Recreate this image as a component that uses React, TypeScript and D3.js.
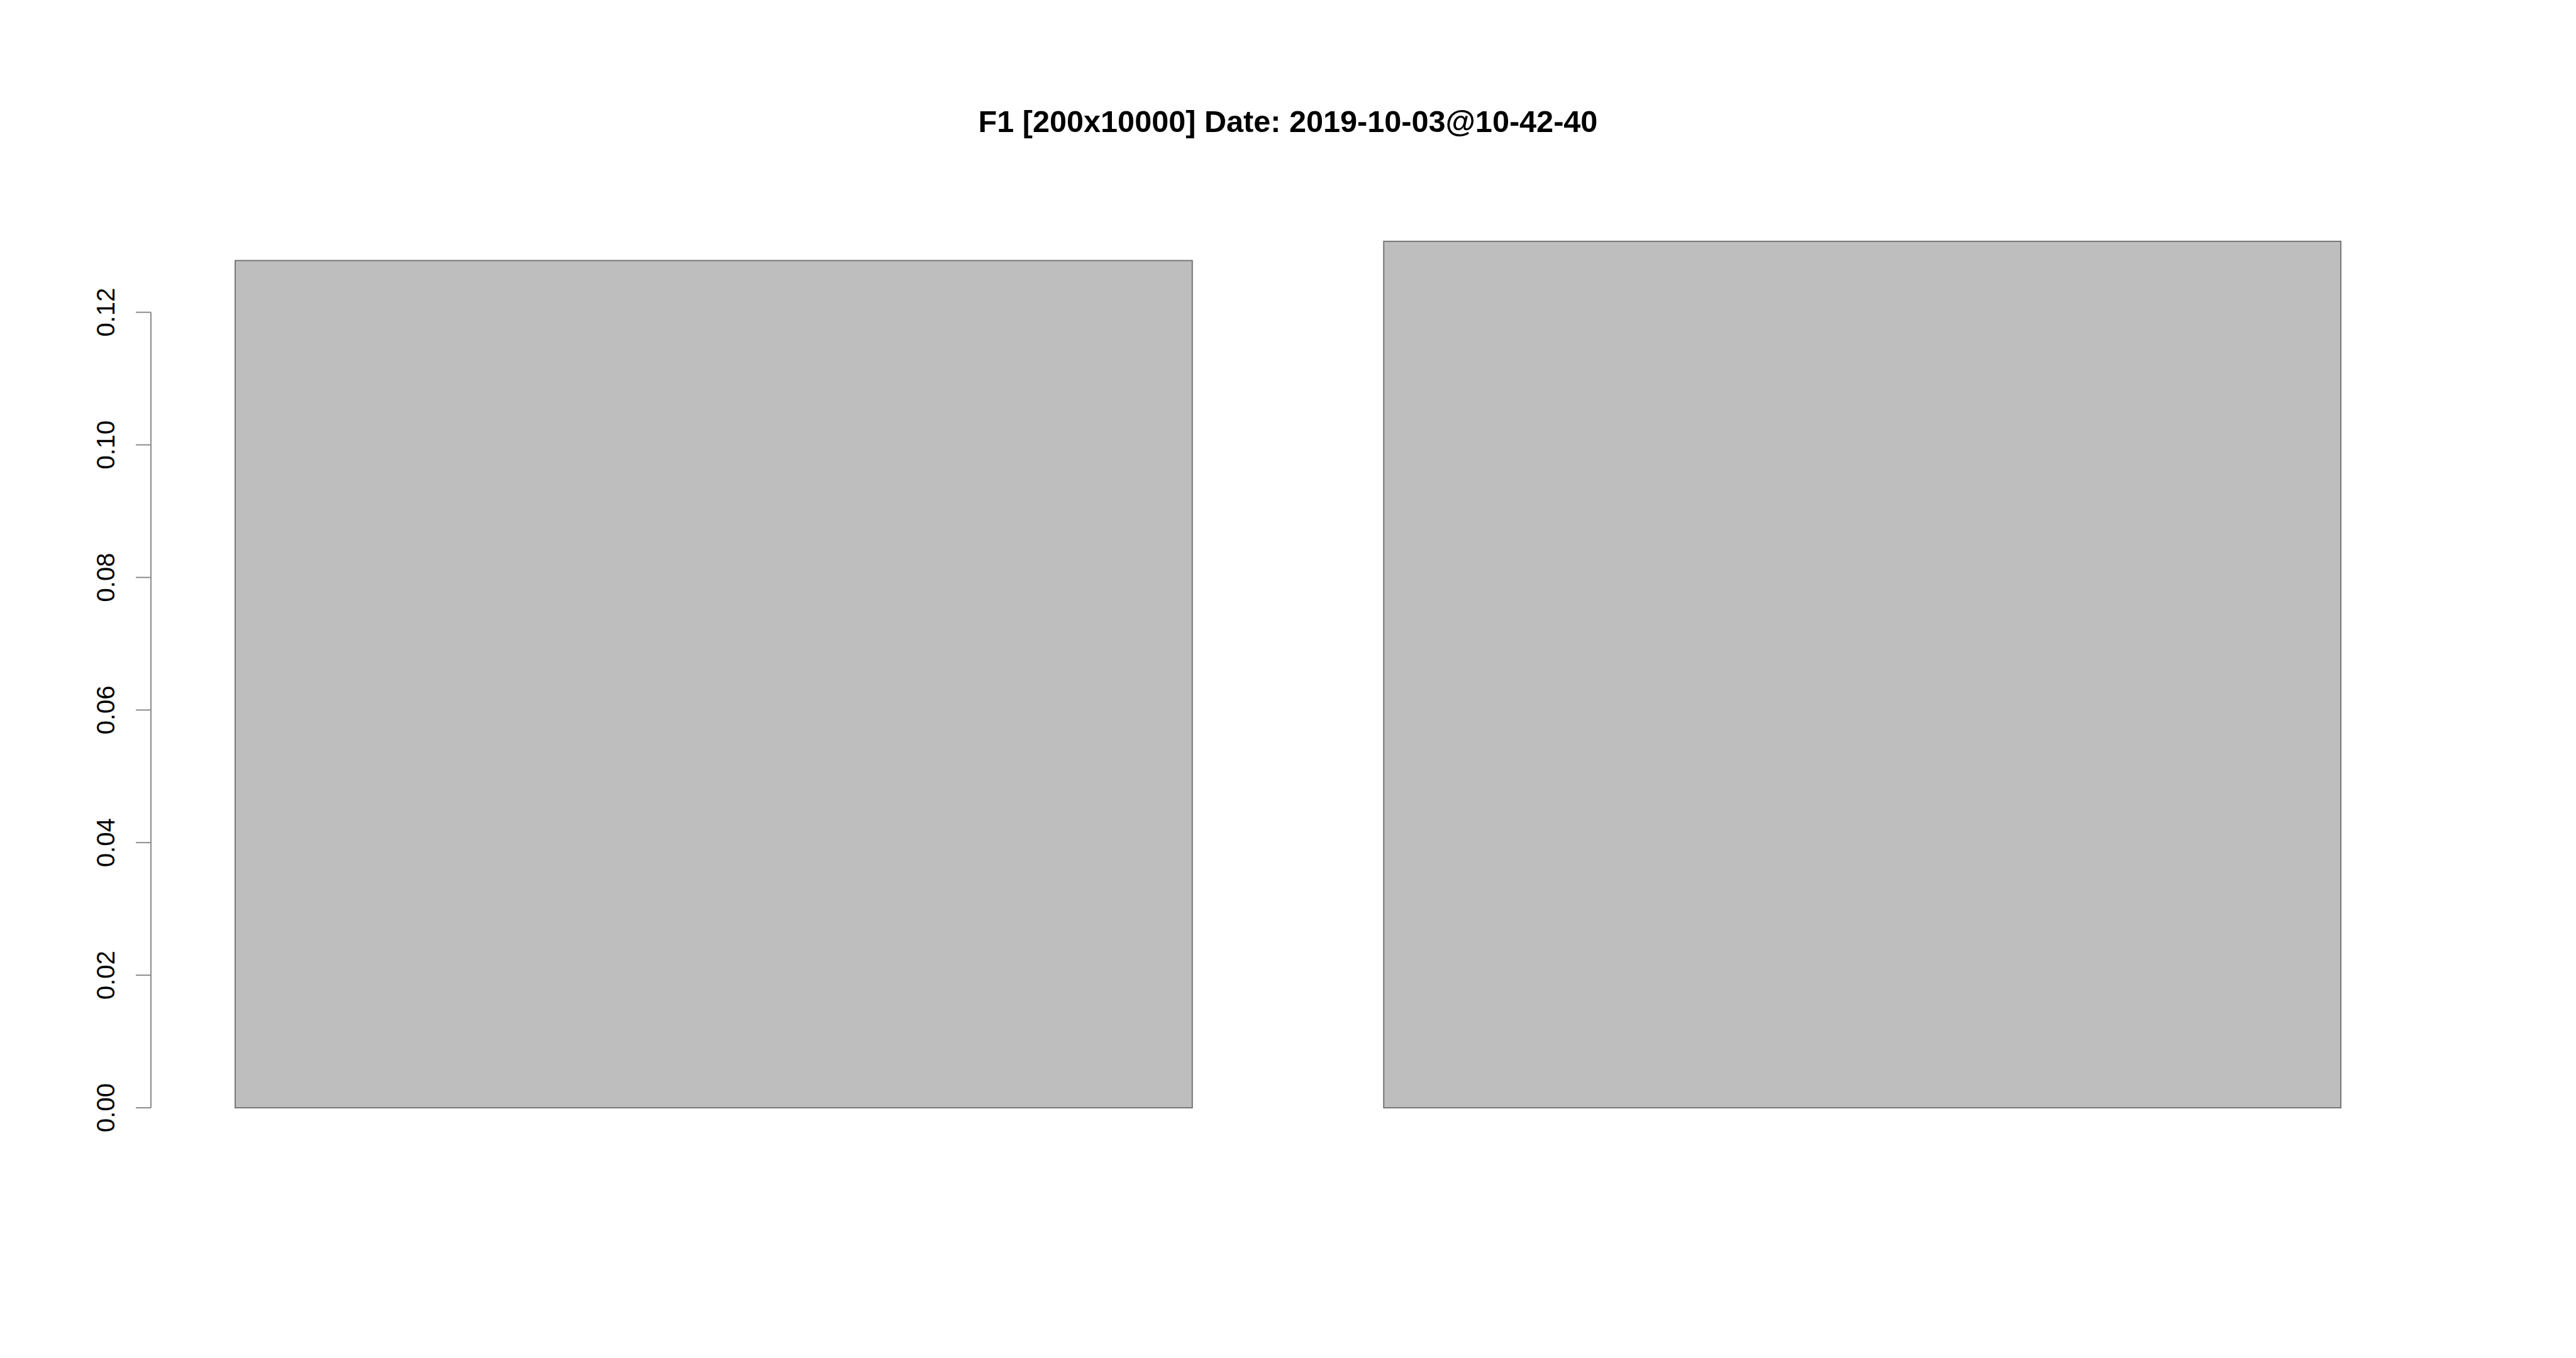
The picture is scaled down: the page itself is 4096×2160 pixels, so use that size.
import React from 'react';
import * as d3 from 'd3';

// Data
const categories = ['run1', 'run2'];
const values = [0.1278, 0.1307];
const yTicks = [0, 0.02, 0.04, 0.06, 0.08, 0.1, 0.12];
const titleText = 'F1 [200x10000] Date: 2019-10-03@10-42-40';

const W = 4096;
const H = 2160;

const App = () => {
  const x = d3.scaleBand<string>()
    .domain(categories)
    .range([374, 3722])
    .paddingInner(0.1667)
    .paddingOuter(0);

  const y = d3.scaleLinear()
    .domain([0, 0.12])
    .range([1762, 496.7]);

  const axisX = 240;

  return (
    <div style={{ position: 'fixed', left: 0, top: 0 }}>
      <svg width={W} height={H} style={{ display: 'block', background: '#fff' }}
        fontFamily="'Liberation Sans', Arial, sans-serif">
        <text x={W / 2} y={210} textAnchor="middle" fontSize={48.6} fontWeight="bold" fill="#000">
          {titleText}
        </text>

        {/* Bars */}
        {categories.map((c, i) => (
          <rect
            key={c}
            x={x(c)}
            y={y(values[i])}
            width={x.bandwidth()}
            height={y(0) - y(values[i])}
            fill="#BEBEBE"
            stroke="#777"
            strokeWidth={2}
          />
        ))}

        {/* Y axis */}
        <line x1={axisX} x2={axisX} y1={y(0)} y2={y(0.12)} stroke="#8c8c8c" strokeWidth={2} />
        {yTicks.map((t, i) => (
          <g key={i}>
            <line x1={axisX - 24} x2={axisX} y1={y(t)} y2={y(t)} stroke="#8c8c8c" strokeWidth={2} />
            <text
              transform={`translate(182,${y(t)}) rotate(-90)`}
              textAnchor="middle"
              fontSize={40}
              fill="#000"
            >
              {t.toFixed(2)}
            </text>
          </g>
        ))}
      </svg>
    </div>
  );
};

export default App;
